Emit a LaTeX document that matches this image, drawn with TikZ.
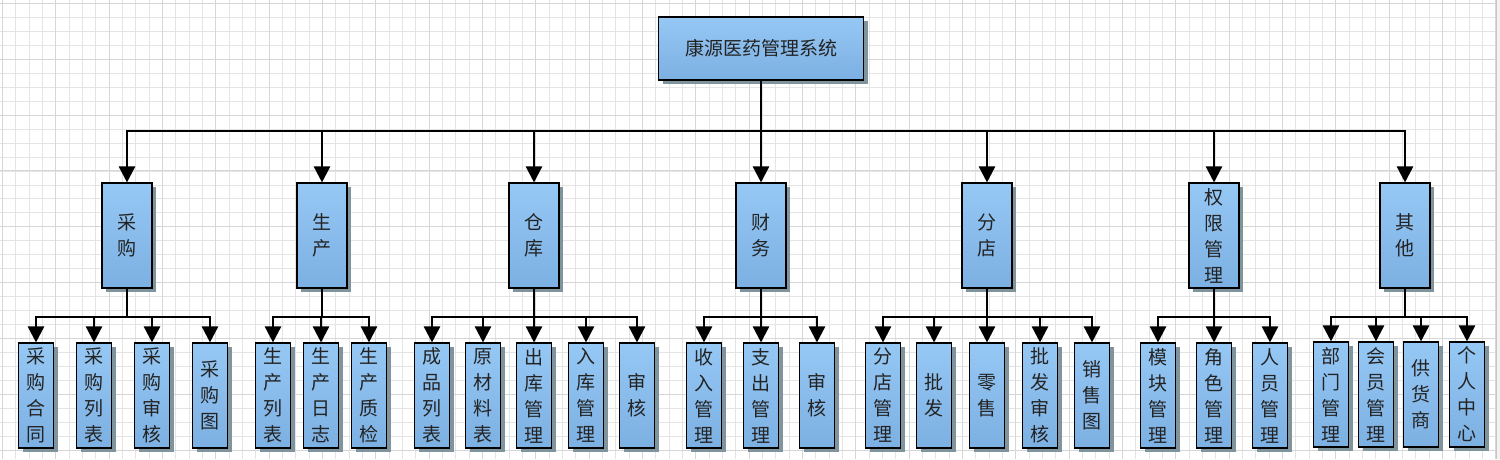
\documentclass[tikz,border=0pt]{standalone}
\usepackage{fontspec}
\newfontfamily\cjk{Noto Sans CJK SC}
\usetikzlibrary{arrows.meta,shadows}
\definecolor{boxtop}{RGB}{150,200,245}
\definecolor{boxbot}{RGB}{124,176,226}
\definecolor{shadowcol}{RGB}{128,148,158}
\definecolor{textcol}{RGB}{35,35,35}
\definecolor{gridminor}{RGB}{228,228,228}
\definecolor{gridmajor}{RGB}{214,214,214}
\tikzset{
  boxbase/.style={draw=black, line width=1.1pt, top color=boxtop, bottom color=boxbot,
    general shadow={fill=shadowcol, shadow xshift=4pt, shadow yshift=-4pt},
    inner sep=0pt, align=center, text=textcol, font=\cjk\fontsize{19}{26}\selectfont},
  rootbox/.style={boxbase, minimum width=205pt, minimum height=63pt},
  lone/.style={boxbase, minimum width=50pt, minimum height=105pt},
  ltwo/.style={boxbase, minimum width=35pt, minimum height=105pt},
  arr/.style={line width=2.5pt, -{Triangle[length=16pt,width=16pt]}},
  gmin/.style={draw=gridminor, line width=0.8pt},
  gmaj/.style={draw=gridmajor, line width=0.9pt},
}
\begin{document}
\begin{tikzpicture}[x=1pt,y=-1pt]
\useasboundingbox (0,0) rectangle (1500,459);
\fill[white] (0,0) rectangle (1500,459);
% grid
\foreach \i in {0,...,112} {\draw[gmin] ({2.3+13.333*\i},0) -- ({2.3+13.333*\i},459);}
\foreach \j in {0,...,32} {\draw[gmin] (0,{3.3+13.97*\j}) -- (1496,{3.3+13.97*\j});}
\foreach \i in {0,...,28} {\draw[gmaj] ({2.3+53.333*\i},0) -- ({2.3+53.333*\i},459);}
\foreach \j in {0,...,8} {\draw[gmaj] (0,{3.3+55.88*\j}) -- (1496,{3.3+55.88*\j});}
\fill[gray!10] (1496,0) rectangle (1500,459);
\draw[gray!45, line width=0.8pt] (1496.5,0) -- (1496.5,459);

% bus coordinates
\coordinate (bus0) at (761,131);
\coordinate (bus1) at (0,317);

% root
\node[rootbox] (r) at (761,48.5) {康源医药管理系统};

% level 1
\node[lone] (a1) at (127,235.5) {采\\购};
\node[lone] (a2) at (322,235.5) {生\\产};
\node[lone] (a3) at (534,235.5) {仓\\库};
\node[lone] (a4) at (761,235.5) {财\\务};
\node[lone] (a5) at (987,235.5) {分\\店};
\node[lone] (a6) at (1214,235.5) {权\\限\\管\\理};
\node[lone] (a7) at (1405,235.5) {其\\他};

% level 2
\node[ltwo] (a1b1) at (36,395.5) {采\\购\\合\\同};
\node[ltwo] (a1b2) at (94,395.5) {采\\购\\列\\表};
\node[ltwo] (a1b3) at (152,395.5) {采\\购\\审\\核};
\node[ltwo] (a1b4) at (210,395.5) {采\\购\\图};

\node[ltwo] (a2b1) at (273,395.5) {生\\产\\列\\表};
\node[ltwo] (a2b2) at (321,395.5) {生\\产\\日\\志};
\node[ltwo] (a2b3) at (369,395.5) {生\\产\\质\\检};

\node[ltwo] (a3b1) at (432,395.5) {成\\品\\列\\表};
\node[ltwo] (a3b2) at (483,395.5) {原\\材\\料\\表};
\node[ltwo] (a3b3) at (534,395.5) {出\\库\\管\\理};
\node[ltwo] (a3b4) at (586,395.5) {入\\库\\管\\理};
\node[ltwo] (a3b5) at (637,395.5) {审\\核};

\node[ltwo] (a4b1) at (704,395.5) {收\\入\\管\\理};
\node[ltwo] (a4b2) at (761,395.5) {支\\出\\管\\理};
\node[ltwo] (a4b3) at (817,395.5) {审\\核};

\node[ltwo] (a5b1) at (883,395.5) {分\\店\\管\\理};
\node[ltwo] (a5b2) at (934,395.5) {批\\发};
\node[ltwo] (a5b3) at (987,395.5) {零\\售};
\node[ltwo] (a5b4) at (1040,395.5) {批\\发\\审\\核};
\node[ltwo] (a5b5) at (1092,395.5) {销\\售\\图};

\node[ltwo] (a6b1) at (1158,395.5) {模\\块\\管\\理};
\node[ltwo] (a6b2) at (1214,395.5) {角\\色\\管\\理};
\node[ltwo] (a6b3) at (1270,395.5) {人\\员\\管\\理};

\node[ltwo] (a7b1) at (1331,394.5) {部\\门\\管\\理};
\node[ltwo] (a7b2) at (1376,394.5) {会\\员\\管\\理};
\node[ltwo] (a7b3) at (1421,394.5) {供\\货\\商};
\node[ltwo] (a7b4) at (1467,394.5) {个\\人\\中\\心};

% connectors root -> level 1
\foreach \n in {a1,a2,a3,a4,a5,a6,a7}
  \draw[arr] (r.south) -- (r.south |- bus0) -| (\n.north);

% connectors level 1 -> level 2
\foreach \p/\c in {a1/a1b1,a1/a1b2,a1/a1b3,a1/a1b4,
                   a2/a2b1,a2/a2b2,a2/a2b3,
                   a3/a3b1,a3/a3b2,a3/a3b3,a3/a3b4,a3/a3b5,
                   a4/a4b1,a4/a4b2,a4/a4b3,
                   a5/a5b1,a5/a5b2,a5/a5b3,a5/a5b4,a5/a5b5,
                   a6/a6b1,a6/a6b2,a6/a6b3,
                   a7/a7b1,a7/a7b2,a7/a7b3,a7/a7b4}
  \draw[arr] (\p.south) -- (\p.south |- bus1) -| (\c.north);
\end{tikzpicture}
\end{document}
